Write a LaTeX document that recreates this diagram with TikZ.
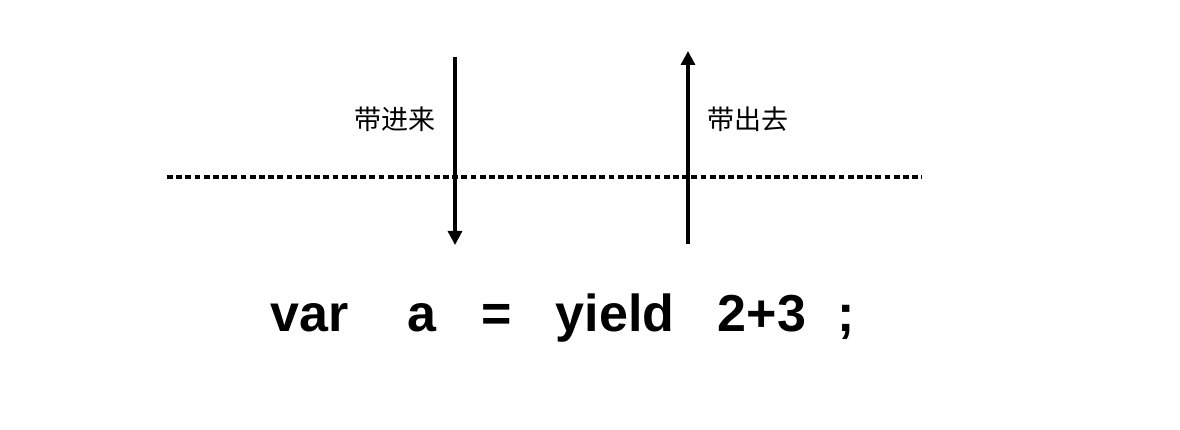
\documentclass[tikz,border=0pt]{standalone}
\usepackage{fontspec}
\setmainfont{Liberation Sans}
\newfontfamily\cjk{Noto Sans CJK SC}
\usetikzlibrary{arrows.meta}
\tikzset{
  flow/.style={line width=3.2pt, -{Triangle[width=14pt,length=14pt]}},
  sep/.style={line width=3.2pt, dash pattern=on 5.8pt off 3.4pt},
  lbl/.style={font=\cjk\fontsize{27}{32}\selectfont, inner sep=0pt},
  code/.style={font=\bfseries\fontsize{52}{60}\selectfont, inner sep=0pt, anchor=base}
}
\begin{document}
\begin{tikzpicture}[x=1pt,y=-1pt]
\useasboundingbox (0,0) rectangle (1180,430);
\fill[white] (0,0) rectangle (1180,430);
% dashed separator
\coordinate (dashL) at (167,177);
\coordinate (dashR) at (922,177);
\draw[sep] (dashL) -- (dashR);
% arrows
\coordinate (inTop) at (455,57);
\coordinate (inBot) at (455,245);
\coordinate (outBot) at (688,244);
\coordinate (outTop) at (688,51);
\draw[flow] (inTop) -- (inBot);
\draw[flow] (outBot) -- (outTop);
% labels
\node[lbl] (in) at (395,119) {带进来};
\node[lbl] (out) at (748,119) {带出去};
% code
\node[code] (var) at (310,331) {var};
\node[code] (a) at (422,331) {a};
\node[code] (eq) at (497,331) {=};
\node[code] (yield) at (615,331) {yield};
\node[code] (expr) at (762,331) {2+3};
\node[code] (semi) at (846,331) {;};
\end{tikzpicture}
\end{document}
